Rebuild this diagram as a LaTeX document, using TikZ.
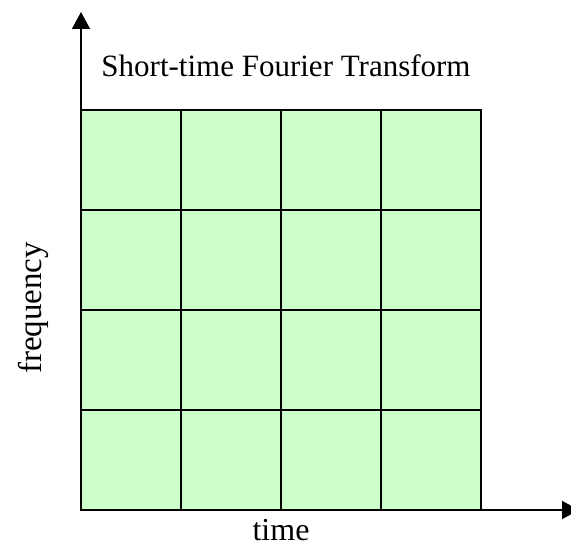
\documentclass[tikz,border=0pt]{standalone}
\usepackage{fontspec}
\setmainfont{Liberation Serif}
\usetikzlibrary{arrows.meta}
\definecolor{cellgreen}{HTML}{CCFFCC}
\begin{document}
\begin{tikzpicture}[x=1pt,y=-1pt,
  gridline/.style={line width=1.6pt,black},
  axisline/.style={line width=1.6pt,black,-{Triangle[length=17pt,width=18pt]}},
  lbl/.style={font=\fontsize{32}{38}\selectfont,inner sep=0pt}]
\useasboundingbox (0,0) rectangle (571,548);
\coordinate (o) at (81,510);
\coordinate (ytip) at (81,12);
\coordinate (xtip) at (579,510);
\fill[cellgreen] (81,110) rectangle (481,510);
\foreach \x in {181,281,381}{\draw[gridline] (\x,110) -- (\x,510);}
\foreach \y in {210,310,410}{\draw[gridline] (81,\y) -- (481,\y);}
\draw[gridline] (81,110) rectangle (481,510);
\draw[axisline] (o) -- (ytip);
\draw[axisline] (o) -- (xtip);
\node[lbl,font=\fontsize{31}{37}\selectfont,anchor=base] (title) at (286,77) {Short-time Fourier Transform};
\node[lbl,anchor=base] (time) at (281,540) {time};
\node[lbl,font=\fontsize{33}{40}\selectfont,rotate=90] (freq) at (33,308) {frequency};
\end{tikzpicture}
\end{document}
